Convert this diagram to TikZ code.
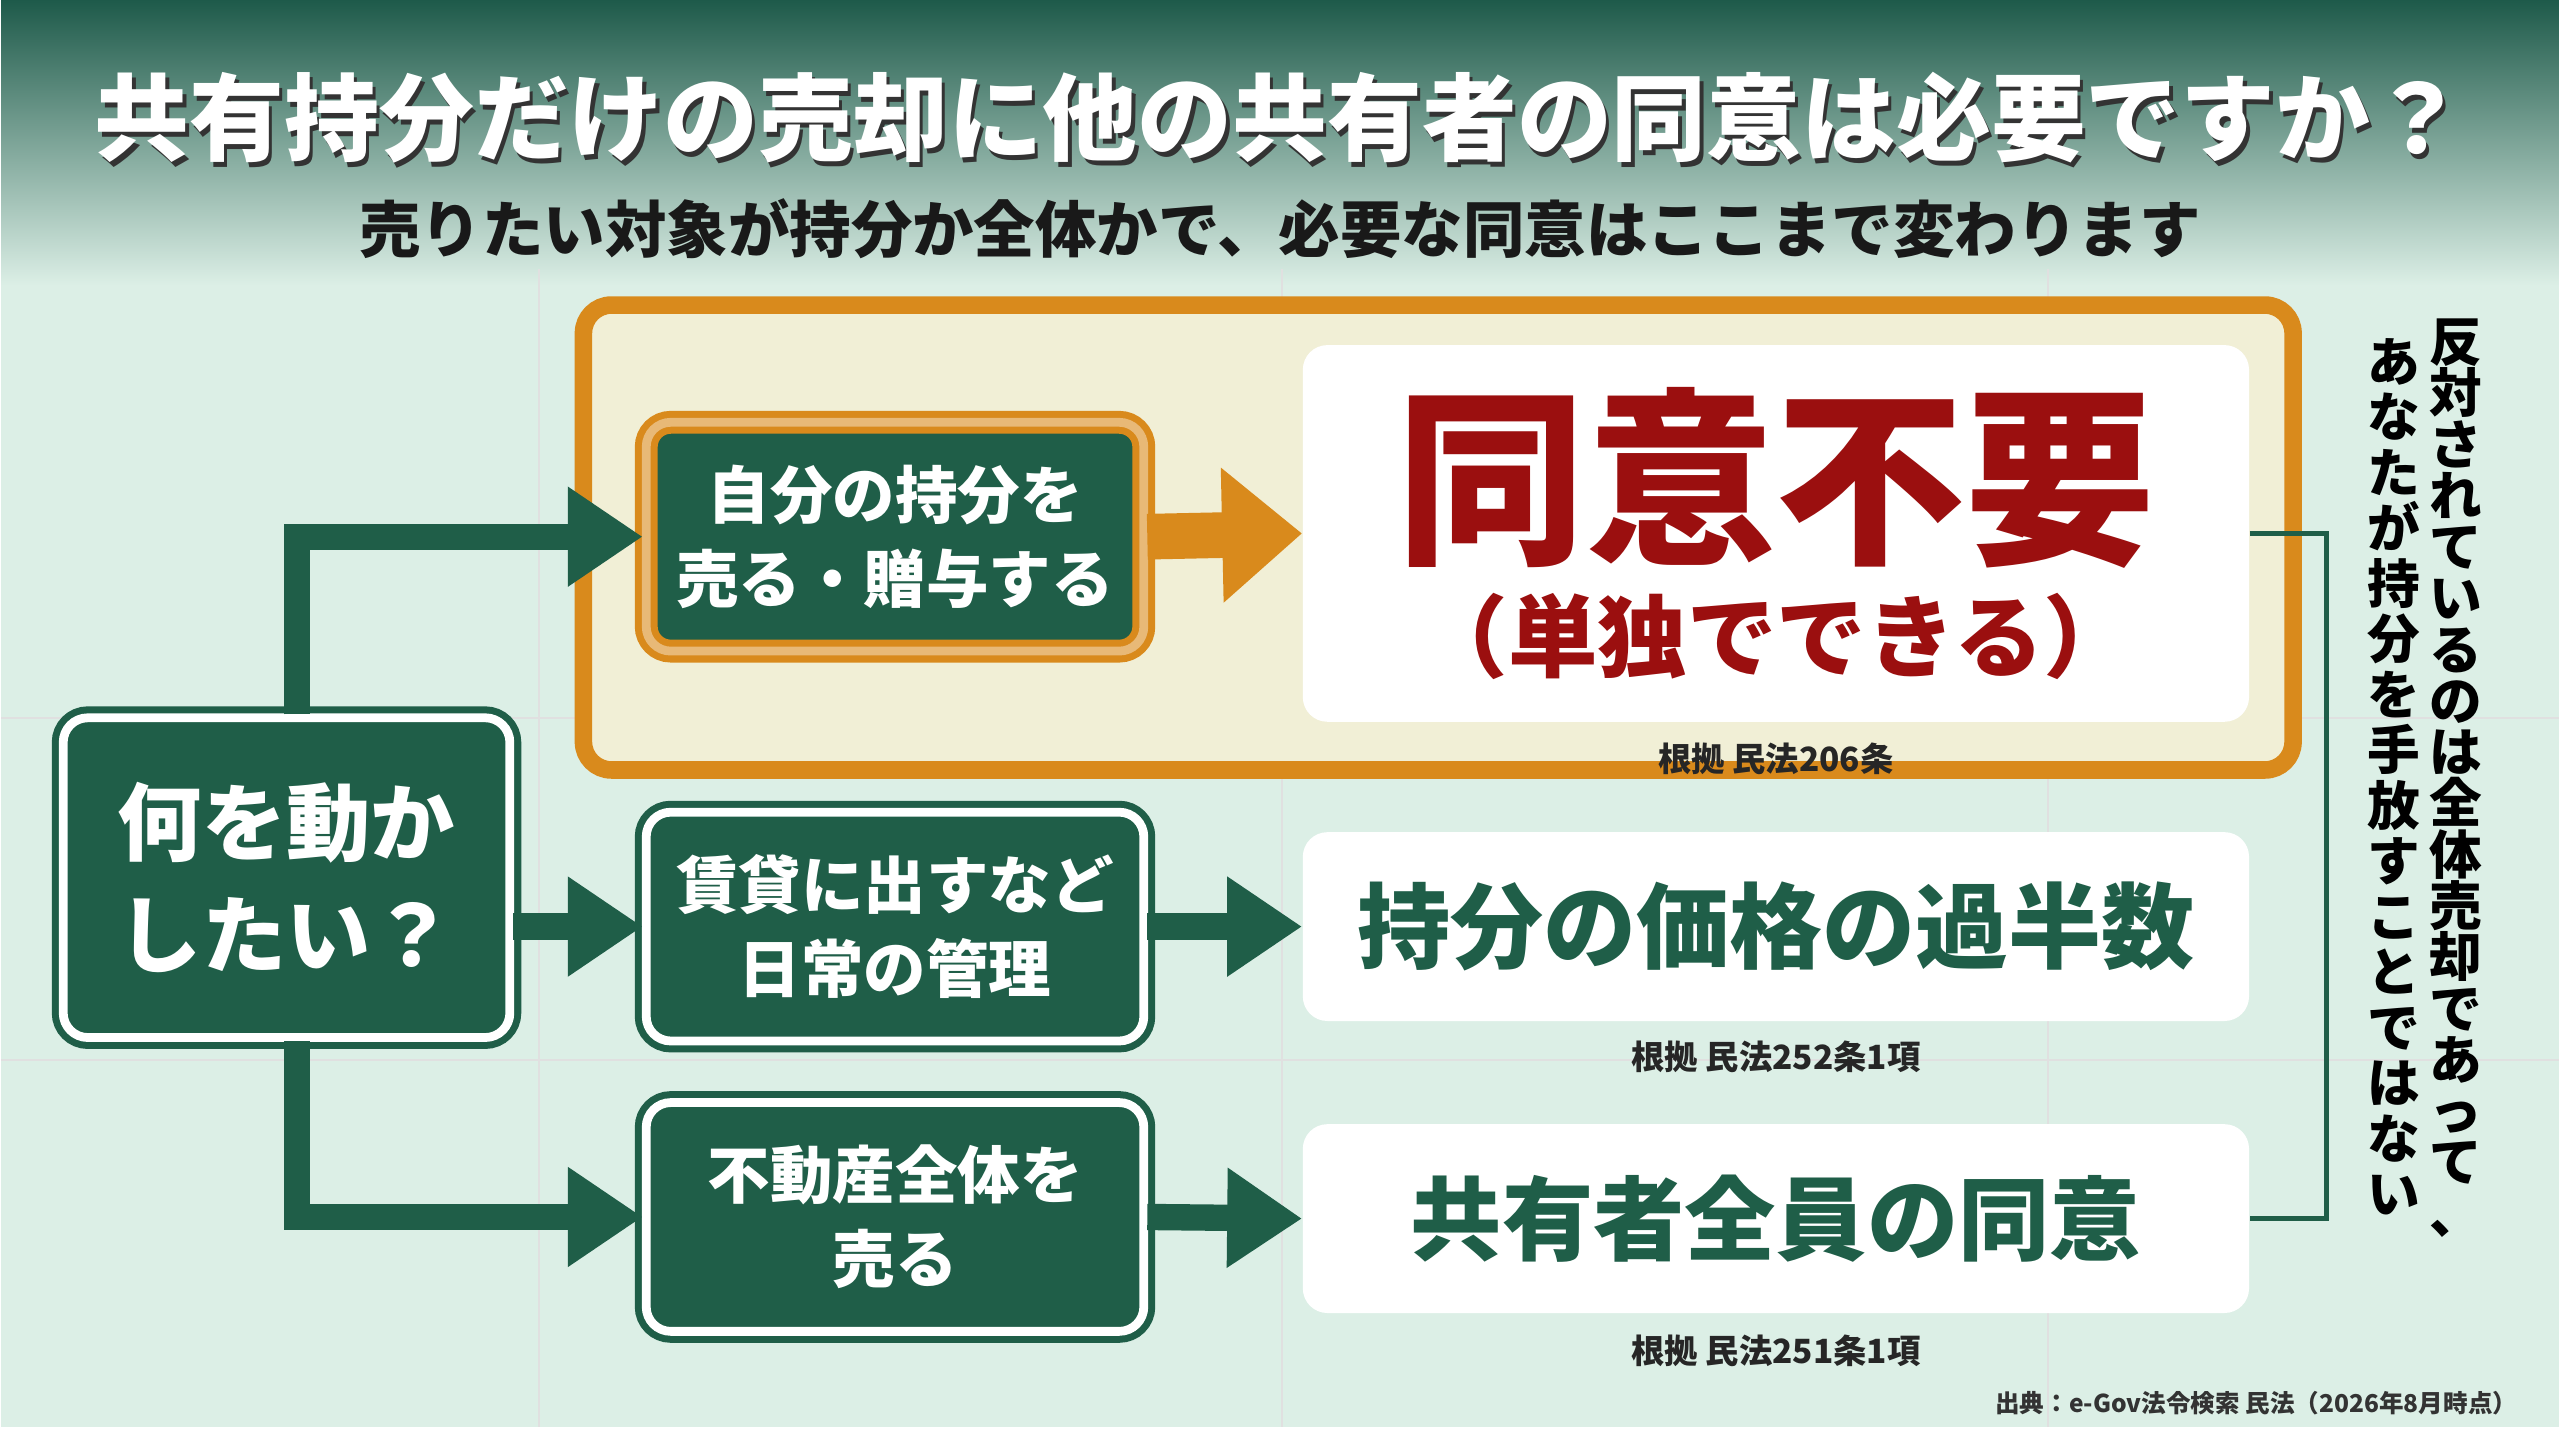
\documentclass[tikz,border=0pt]{standalone}
\usepackage{fontspec}
\setmainfont{Noto Sans CJK JP}
\usetikzlibrary{arrows.meta}
\definecolor{dkgreen}{HTML}{1F5E48}
\definecolor{mint}{HTML}{DCEFE6}
\definecolor{topteal}{HTML}{1E5A4A}
\definecolor{dkred}{HTML}{9B0F0F}
\definecolor{amber}{HTML}{D98A1C}
\definecolor{cream}{HTML}{F1EFD6}
\newcommand{\fs}[1]{\fontsize{#1}{#1}\selectfont\bfseries}
\newcommand{\fsl}[2]{\fontsize{#1}{#2}\selectfont\bfseries}
\begin{document}
\begin{tikzpicture}[x=0.01633cm, y=-0.01633cm,
    stepbox/.style={draw=dkgreen, fill=dkgreen, text=white, rounded corners=7, align=center,
      double=white, double distance=2.5pt, line width=2pt, minimum width=4.98cm, minimum height=2.29cm, inner sep=0},
    ansbox/.style={fill=white, rounded corners=7, align=center, minimum width=9.47cm, inner sep=0},
    flow/.style={dkgreen, line width=7.5pt, -{Triangle[length=0.75cm, width=0.95cm]}},
    basis/.style={font=\fs{9.5}, text=black!85}]
    % background
    \fill[mint] (0,0) rectangle (1568,875);
    \shade[top color=topteal, bottom color=mint] (0,0) rectangle (1568,175);
    \foreach \x in {330,785,1255}
      \draw[black!12, line width=0.6pt] (\x,165) -- (\x,875);
    \foreach \y in {440,650}
      \draw[black!12, line width=0.6pt] (0,\y) -- (1568,\y);

    % title
    \node[text=black!80, font=\fs{27}] at (786,75) {共有持分だけの売却に他の共有者の同意は必要ですか？};
    \node[text=white, font=\fs{27}] (title) at (784,72) {共有持分だけの売却に他の共有者の同意は必要ですか？};
    \node[font=\fs{17.5}, text=black!90] (sub) at (784,140) {売りたい対象が持分か全体かで、必要な同意はここまで変わります};

    % highlight frame
    \draw[amber, line width=5pt, fill=cream, rounded corners=8] (357,187) rectangle (1405,472);

    % nodes
    \node[stepbox, minimum width=4.47cm, minimum height=3.2cm, font=\fsl{24}{32}] (ask) at (175,538) {何を動か\\したい？};
    \node[stepbox, draw=amber, double=amber!60, font=\fsl{17.8}{24}] (mA) at (548,329) {自分の持分を\\売る・贈与する};
    \node[stepbox, font=\fsl{17.8}{24}] (mB) at (548,568) {賃貸に出すなど\\日常の管理};
    \node[stepbox, font=\fsl{17.8}{24}] (mC) at (548,746) {不動産全体を\\売る};

    \node[ansbox, minimum height=3.77cm, text=dkred] (rA) at (1088,327)
      {{\fs{54}同意不要}\\[6pt]{\fs{25.5}（単独でできる）}};
    \node[ansbox, minimum height=1.89cm, text=dkgreen, font=\fs{26.5}] (rB) at (1088,568) {持分の価格の過半数};
    \node[ansbox, minimum height=1.89cm, text=dkgreen, font=\fs{26}] (rC) at (1088,747) {共有者全員の同意};

    \node[basis] (bA) at (1088,465) {根拠 民法206条};
    \node[basis] (bB) at (1088,648) {根拠 民法252条1項};
    \node[basis] (bC) at (1088,828) {根拠 民法251条1項};

    % connectors
    \draw[flow] ([xshift=3]ask.north) |- (mA.west);
    \draw[flow] (ask.east |- mB.west) -- (mB.west);
    \draw[flow] ([xshift=3]ask.south) |- (mC.west);
    \draw[amber, line width=13pt, -{Triangle[length=0.8cm, width=1.3cm]}] (mA.east) -- (rA.west);
    \draw[flow] (mB.east) -- (rB.west);
    \draw[flow] (mC.east) -- (rC.west);

    % bracket and note
    \draw[dkgreen, line width=1.5pt] (rA.east) -- ++(47,0) |- (rC.east);
    \node[font=\fsl{15}{14.6}, align=center, inner sep=0, anchor=north] (noteR) at (1505,195)
      {反\\対\\さ\\れ\\て\\い\\る\\の\\は\\全\\体\\売\\却\\で\\あ\\っ\\て\\、};
    \node[font=\fsl{15}{15.8}, align=center, inner sep=0, anchor=north] (noteL) at (1467,207)
      {あ\\な\\た\\が\\持\\分\\を\\手\\放\\す\\こ\\と\\で\\は\\な\\い};

    % source
    \node[font=\fs{7}, anchor=east, text=black!80] (src) at (1550,860) {出典：e-Gov法令検索 民法（2026年8月時点）};
\end{tikzpicture}
\end{document}
